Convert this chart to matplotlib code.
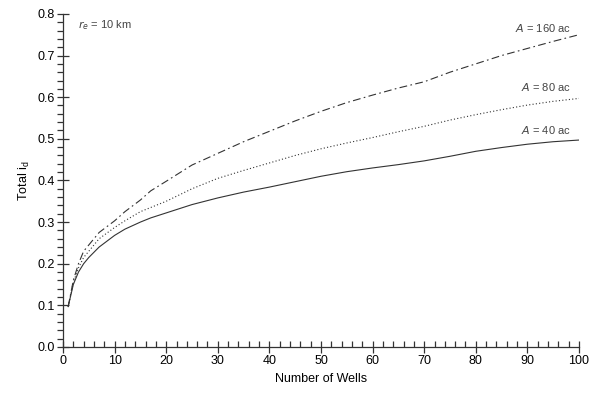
import matplotlib
matplotlib.use("Agg")
import matplotlib.pyplot as plt
from matplotlib.ticker import MultipleLocator

plt.rcParams['font.family'] = ['Liberation Sans', 'DejaVu Sans']

wells = [1, 2, 3, 4, 5, 7, 10, 12, 15, 17, 20, 25, 30, 35, 40, 45, 50, 55, 60,
         65, 70, 75, 80, 85, 90, 95, 100]
total_40 = [0.097, 0.15, 0.18, 0.2, 0.215, 0.24, 0.268, 0.283, 0.300, 0.31, 0.322,
            0.342, 0.358, 0.372, 0.384, 0.397, 0.41, 0.421, 0.43, 0.438, 0.447,
            0.458, 0.47, 0.479, 0.487, 0.493, 0.497]
total_80 = [0.097, 0.155, 0.19, 0.215, 0.23, 0.26, 0.287, 0.303, 0.325, 0.335, 0.35,
            0.38, 0.405, 0.424, 0.442, 0.46, 0.476, 0.49, 0.503, 0.517, 0.53,
            0.545, 0.558, 0.570, 0.581, 0.590, 0.597]
total_160 = [0.097, 0.16, 0.2, 0.23, 0.245, 0.275, 0.303, 0.325, 0.353, 0.375, 0.398,
             0.437, 0.465, 0.493, 0.518, 0.543, 0.566, 0.587, 0.605, 0.622, 0.637,
             0.66, 0.68, 0.70, 0.717, 0.734, 0.750]

fig = plt.figure(figsize=(6, 3.97), dpi=100)
ax = fig.add_axes([0.105, 0.126, 0.86, 0.839])

c = "#333333"
ax.plot(wells, total_40, color=c, lw=0.8, ls="-")
ax.plot(wells, total_80, color=c, lw=0.8, ls=(0, (1, 2)))
ax.plot(wells, total_160, color=c, lw=0.8, ls=(0, (7, 3, 1.5, 3)))

ax.set_xlim(0, 100)
ax.set_ylim(0, 0.8)
ax.xaxis.set_major_locator(MultipleLocator(10))
ax.xaxis.set_minor_locator(MultipleLocator(2))
ax.yaxis.set_major_locator(MultipleLocator(0.1))
ax.yaxis.set_minor_locator(MultipleLocator(0.02))
ax.yaxis.set_major_formatter(matplotlib.ticker.FormatStrFormatter("%.1f"))

for s in ["top", "right"]:
    ax.spines[s].set_visible(False)
for s in ["left", "bottom"]:
    ax.spines[s].set_color("#333333")
    ax.spines[s].set_linewidth(0.9)

ax.tick_params(axis="x", which="major", direction="inout", length=8, width=0.9,
               color="#333333", labelsize=9, pad=2)
ax.tick_params(axis="x", which="minor", direction="in", length=4, width=0.9, color="#333333")
ax.tick_params(axis="y", which="major", direction="inout", length=8, width=0.9,
               color="#333333", labelsize=9, pad=2)
ax.tick_params(axis="y", which="minor", direction="out", length=4, width=0.9, color="#333333")

ax.set_xlabel("Number of Wells", fontsize=9, labelpad=4)
ax.set_ylabel("Total i$_\\mathregular{d}$", fontsize=9, labelpad=4)

tc = "#444444"
ax.text(98.5, 0.765, "$\\mathit{A}$ = 160 ac", fontsize=8, color=tc, ha="right", va="center")
ax.text(98.5, 0.625, "$\\mathit{A}$ = 80 ac", fontsize=8, color=tc, ha="right", va="center")
ax.text(98.5, 0.522, "$\\mathit{A}$ = 40 ac", fontsize=8, color=tc, ha="right", va="center")
ax.text(3, 0.772, "$\\mathit{r_e}$ = 10 km", fontsize=8, color=tc, ha="left", va="center")

fig.savefig("out.png", dpi=100)
